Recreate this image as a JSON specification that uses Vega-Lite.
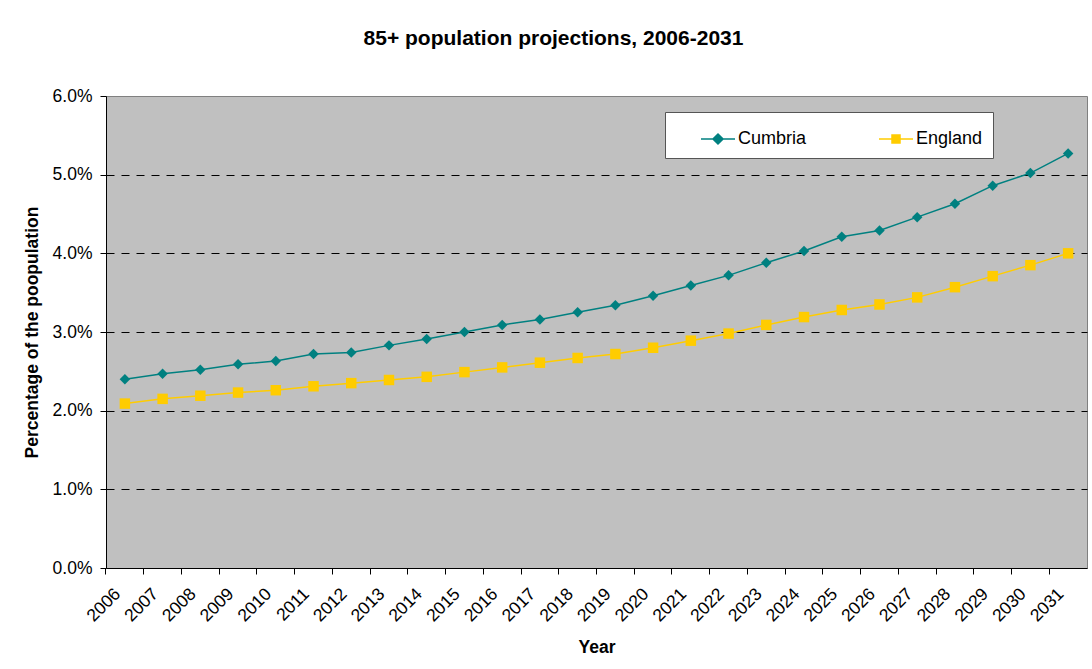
{
  "$schema": "https://vega.github.io/schema/vega-lite/v6.json",
  "width": 981,
  "height": 472,
  "autosize": {"type": "none"},
  "padding": {"left": 106, "top": 96, "right": 5, "bottom": 101},
  "background": "#ffffff",
  "title": {
    "text": "85+ population projections, 2006-2031",
    "font": "Liberation Sans",
    "fontSize": 21,
    "fontWeight": "bold",
    "color": "#000000",
    "anchor": "middle",
    "dx": -43,
    "offset": 38
  },
  "data": {
    "values": [
      {"year": "2006", "series": "Cumbria", "share": 0.0240},
      {"year": "2007", "series": "Cumbria", "share": 0.0247},
      {"year": "2008", "series": "Cumbria", "share": 0.0252},
      {"year": "2009", "series": "Cumbria", "share": 0.0259},
      {"year": "2010", "series": "Cumbria", "share": 0.0263},
      {"year": "2011", "series": "Cumbria", "share": 0.0272},
      {"year": "2012", "series": "Cumbria", "share": 0.0274},
      {"year": "2013", "series": "Cumbria", "share": 0.0283},
      {"year": "2014", "series": "Cumbria", "share": 0.0291},
      {"year": "2015", "series": "Cumbria", "share": 0.0300},
      {"year": "2016", "series": "Cumbria", "share": 0.0309},
      {"year": "2017", "series": "Cumbria", "share": 0.0316},
      {"year": "2018", "series": "Cumbria", "share": 0.0325},
      {"year": "2019", "series": "Cumbria", "share": 0.0334},
      {"year": "2020", "series": "Cumbria", "share": 0.0346},
      {"year": "2021", "series": "Cumbria", "share": 0.0359},
      {"year": "2022", "series": "Cumbria", "share": 0.0372},
      {"year": "2023", "series": "Cumbria", "share": 0.0388},
      {"year": "2024", "series": "Cumbria", "share": 0.0403},
      {"year": "2025", "series": "Cumbria", "share": 0.0421},
      {"year": "2026", "series": "Cumbria", "share": 0.0429},
      {"year": "2027", "series": "Cumbria", "share": 0.0446},
      {"year": "2028", "series": "Cumbria", "share": 0.0463},
      {"year": "2029", "series": "Cumbria", "share": 0.0486},
      {"year": "2030", "series": "Cumbria", "share": 0.0502},
      {"year": "2031", "series": "Cumbria", "share": 0.0527},
      {"year": "2006", "series": "England", "share": 0.0209},
      {"year": "2007", "series": "England", "share": 0.0215},
      {"year": "2008", "series": "England", "share": 0.0219},
      {"year": "2009", "series": "England", "share": 0.0223},
      {"year": "2010", "series": "England", "share": 0.0226},
      {"year": "2011", "series": "England", "share": 0.0231},
      {"year": "2012", "series": "England", "share": 0.0235},
      {"year": "2013", "series": "England", "share": 0.0239},
      {"year": "2014", "series": "England", "share": 0.0243},
      {"year": "2015", "series": "England", "share": 0.0249},
      {"year": "2016", "series": "England", "share": 0.0255},
      {"year": "2017", "series": "England", "share": 0.0261},
      {"year": "2018", "series": "England", "share": 0.0267},
      {"year": "2019", "series": "England", "share": 0.0272},
      {"year": "2020", "series": "England", "share": 0.0280},
      {"year": "2021", "series": "England", "share": 0.0289},
      {"year": "2022", "series": "England", "share": 0.0298},
      {"year": "2023", "series": "England", "share": 0.0309},
      {"year": "2024", "series": "England", "share": 0.0319},
      {"year": "2025", "series": "England", "share": 0.0328},
      {"year": "2026", "series": "England", "share": 0.0335},
      {"year": "2027", "series": "England", "share": 0.0344},
      {"year": "2028", "series": "England", "share": 0.0357},
      {"year": "2029", "series": "England", "share": 0.0371},
      {"year": "2030", "series": "England", "share": 0.0385},
      {"year": "2031", "series": "England", "share": 0.0400}
    ]
  },
  "encoding": {
    "x": {
      "field": "year",
      "type": "ordinal",
      "bandPosition": 0.5,
      "scale": {"type": "band", "paddingInner": 0, "paddingOuter": 0},
      "axis": {
        "title": "Year",
        "bandPosition": 0,
        "labelAngle": -45,
        "labelAlign": "right",
        "labelBaseline": "middle",
        "labelOffset": -7,
        "labelPadding": 17,
        "titleY": 79,
        "titleBaseline": "middle"
      }
    },
    "y": {
      "field": "share",
      "type": "quantitative",
      "scale": {"domain": [0, 0.06], "nice": false, "zero": true},
      "axis": {
        "title": "Percentage of the poopulation",
        "format": ".1%",
        "values": [0, 0.01, 0.02, 0.03, 0.04, 0.05, 0.06],
        "grid": true,
        "gridOpacity": {"condition": {"test": "datum.value <= 0 || datum.value >= 0.06", "value": 0}, "value": 1},
        "labelPadding": 8,
        "titleX": -74,
        "titleY": 236,
        "titleBaseline": "middle",
        "titleAlign": "center"
      }
    },
    "color": {
      "field": "series",
      "type": "nominal",
      "scale": {"domain": ["Cumbria", "England"], "range": ["#008080", "#ffcc00"]},
      "legend": null
    }
  },
  "layer": [
    {
      "mark": {"type": "line", "strokeWidth": 1.5}
    },
    {
      "mark": {"type": "point", "filled": true, "opacity": 1, "size": 110},
      "encoding": {
        "shape": {
          "field": "series",
          "type": "nominal",
          "scale": {"domain": ["Cumbria", "England"], "range": ["diamond", "square"]},
          "legend": null
        }
      }
    },
    {
      "mark": {"type": "point", "filled": true, "size": 0},
      "encoding": {
        "color": {
          "field": "series",
          "type": "nominal",
          "scale": {"domain": ["Cumbria", "England"], "range": ["#008080", "#ffcc00"]},
          "legend": {
            "title": null,
            "orient": "none",
            "direction": "horizontal",
            "legendX": 559,
            "legendY": 16,
            "fillColor": "#ffffff",
            "strokeColor": "#555555",
            "padding": 10,
            "symbolSize": 1156,
            "symbolOpacity": 1,
            "symbolStrokeWidth": 0,
            "symbolOffset": 26,
            "labelFont": "Liberation Sans",
            "labelFontSize": 18,
            "labelColor": "#000000",
            "labelOffset": 3,
            "columnPadding": 46
          }
        },
        "shape": {
          "field": "series",
          "type": "nominal",
          "scale": {
            "domain": ["Cumbria", "England"],
            "range": [
              "M-1,-0.045H1V0.045H-1Z M-0.36,0L0,-0.36L0.36,0L0,0.36Z",
              "M-1,-0.045H1V0.045H-1Z M-0.28,-0.28H0.28V0.28H-0.28Z"
            ]
          },
          "legend": {
            "title": null,
            "orient": "none",
            "direction": "horizontal",
            "legendX": 559,
            "legendY": 16,
            "fillColor": "#ffffff",
            "strokeColor": "#555555",
            "padding": 10,
            "symbolSize": 1156,
            "symbolOpacity": 1,
            "symbolStrokeWidth": 0,
            "symbolOffset": 26,
            "labelFont": "Liberation Sans",
            "labelFontSize": 18,
            "labelColor": "#000000",
            "labelOffset": 3,
            "columnPadding": 46
          }
        }
      }
    }
  ],
  "resolve": {"scale": {"shape": "independent", "color": "independent"}},
  "config": {
    "view": {"fill": "#c0c0c0", "stroke": "#808080", "strokeWidth": 1},
    "axis": {
      "labelFont": "Liberation Sans",
      "labelFontSize": 17.5,
      "labelColor": "#000000",
      "titleFont": "Liberation Sans",
      "titleFontSize": 17.5,
      "titleFontWeight": "bold",
      "titleColor": "#000000",
      "domainColor": "#000000",
      "domainWidth": 1,
      "tickColor": "#000000",
      "tickSize": 6,
      "tickWidth": 1,
      "gridColor": "#000000",
      "gridDash": [8, 7],
      "gridWidth": 1
    },
    "axisX": {"grid": false}
  }
}
